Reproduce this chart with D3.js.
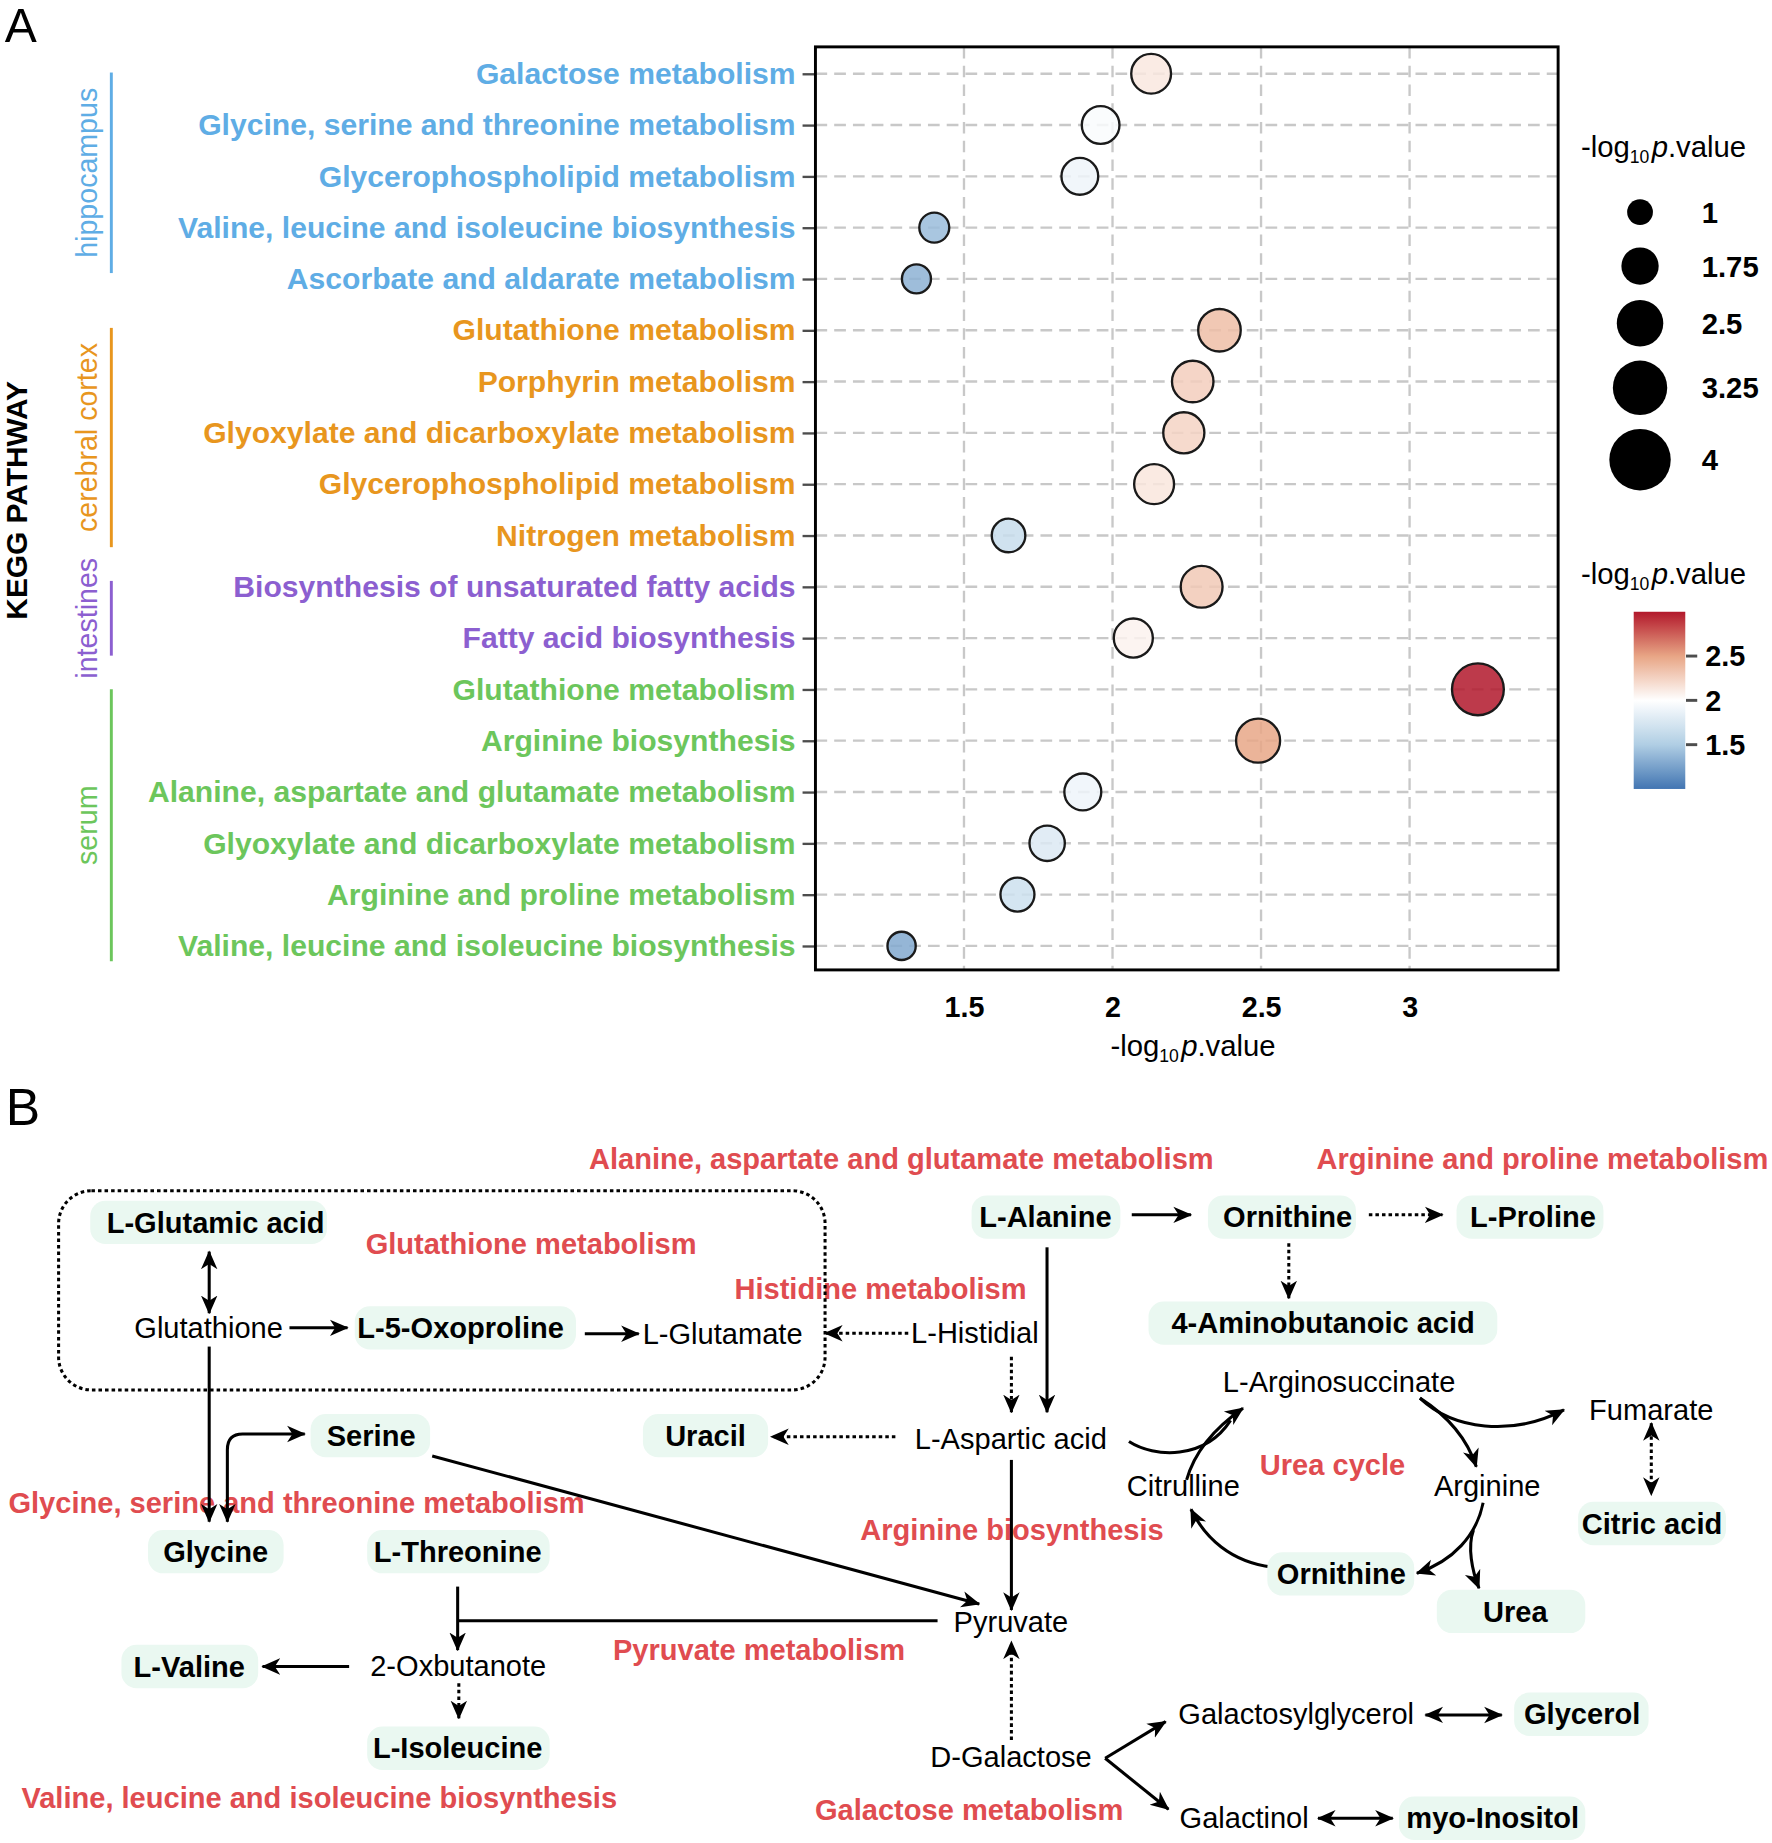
<!DOCTYPE html>
<html>
<head>
<meta charset="utf-8">
<script src="https://cdn.jsdelivr.net/npm/d3@7"></script>
<style>
  body { margin: 0; background: #fff; }
</style>
</head>
<body>
<div id="chart"></div>
<script>
// ---------- data: panel A ----------
var pathways = [
  "Galactose metabolism",
  "Glycine, serine and threonine metabolism",
  "Glycerophospholipid metabolism",
  "Valine, leucine and isoleucine biosynthesis",
  "Ascorbate and aldarate metabolism",
  "Glutathione metabolism",
  "Porphyrin metabolism",
  "Glyoxylate and dicarboxylate metabolism",
  "Glycerophospholipid metabolism",
  "Nitrogen metabolism",
  "Biosynthesis of unsaturated fatty acids",
  "Fatty acid biosynthesis",
  "Glutathione metabolism",
  "Arginine biosynthesis",
  "Alanine, aspartate and glutamate metabolism",
  "Glyoxylate and dicarboxylate metabolism",
  "Arginine and proline metabolism",
  "Valine, leucine and isoleucine biosynthesis"
];
var tissue = [
  "hippocampus", "hippocampus", "hippocampus", "hippocampus", "hippocampus",
  "cerebral cortex", "cerebral cortex", "cerebral cortex", "cerebral cortex", "cerebral cortex",
  "intestines", "intestines",
  "serum", "serum", "serum", "serum", "serum", "serum"
];
var logP = [2.13, 1.96, 1.89, 1.40, 1.34, 2.36, 2.27, 2.24, 2.14, 1.65, 2.30, 2.07, 3.23, 2.49, 1.90, 1.78, 1.68, 1.29];

var groups = ["hippocampus", "cerebral cortex", "intestines", "serum"];
var groupColors = ["#5FADE5", "#E8961E", "#8C5FD0", "#6CC65C"];
var xTicks = [1.5, 2, 2.5, 3];
var sizeBreaks = [1, 1.75, 2.5, 3.25, 4];
var colorTicks = [1.5, 2, 2.5];

// ---------- data: panel B ----------
var pathwayLabels = [
  "Alanine, aspartate and glutamate metabolism",
  "Arginine and proline metabolism",
  "Glutathione metabolism",
  "Histidine metabolism",
  "Glycine, serine and threonine metabolism",
  "Urea cycle",
  "Arginine biosynthesis",
  "Pyruvate metabolism",
  "Valine, leucine and isoleucine biosynthesis",
  "Galactose metabolism"
];
var metabolites = [
  "L-Glutamic acid", "Glutathione", "L-5-Oxoproline", "L-Glutamate", "L-Histidial",
  "L-Alanine", "Ornithine", "L-Proline", "4-Aminobutanoic acid", "Serine", "Uracil",
  "L-Aspartic acid", "L-Arginosuccinate", "Fumarate", "Citrulline", "Arginine",
  "Glycine", "L-Threonine", "Citric acid", "Ornithine", "Urea", "Pyruvate",
  "L-Valine", "2-Oxbutanote", "L-Isoleucine", "Galactosylglycerol", "Glycerol",
  "D-Galactose", "Galactinol", "myo-Inositol"
];
// metabolites found changed (shown with a green box)
var detected = [1, 0, 1, 0, 0, 1, 1, 1, 1, 1, 1, 0, 0, 0, 0, 0, 1, 1, 1, 1, 1, 0, 1, 0, 1, 0, 1, 0, 0, 1];

// ---------- drawing ----------
var FONT = '"Liberation Sans", Arial, Helvetica, sans-serif';
var W = 1512, H = 1843 * 1512 / 1772;

var svg = d3.select('#chart').append('svg')
  .attr('width', 1772)
  .attr('height', 1843)
  .attr('viewBox', '0 0 ' + W + ' ' + H)
  .style('font-family', FONT)
  .style('background', '#fff');
var defs = svg.append('defs');

var groupColor = d3.scaleOrdinal().domain(groups).range(groupColors);

// panel letters
svg.append('text').attr('x', 4).attr('y', 36).attr('font-size', 41).text('A');
svg.append('text').attr('x', 5).attr('y', 960).attr('font-size', 44).text('B');

// ===== panel A: bubble chart =====
var plotL = 695.8, plotR = 1329.5, plotT = 40, plotB = 827.6;

var x = d3.scaleLinear().domain([1, 3.5]).range([plotL, plotR]);
var y = d3.scalePoint().domain(d3.range(pathways.length)).range([41, 829]).padding(0.5);
var r = d3.scaleSqrt().domain([1, 4]).range([10, 25.2]);
var color = d3.scaleLinear()
  .domain([1, 1.5, 2, 2.5, 3])
  .range(['#4275B2', '#B0CEE4', '#FFFFFF', '#E8A585', '#B2182B'])
  .clamp(true);

// grid
var grid = svg.append('g')
  .attr('stroke', '#C8C8C8')
  .attr('stroke-width', 2)
  .attr('stroke-dasharray', '10,6');
grid.selectAll('.hgrid').data(d3.range(pathways.length)).join('line')
  .attr('class', 'hgrid')
  .attr('x1', plotL).attr('x2', plotR)
  .attr('y1', function(d){ return y(d); })
  .attr('y2', function(d){ return y(d); });
grid.selectAll('.vgrid').data(xTicks).join('line')
  .attr('class', 'vgrid')
  .attr('x1', function(d){ return x(d); })
  .attr('x2', function(d){ return x(d); })
  .attr('y1', plotT).attr('y2', plotB);

// y axis (pathway names)
var yAxis = d3.axisLeft(y).tickSize(11).tickPadding(6)
  .tickFormat(function(i){ return pathways[i]; });
var gy = svg.append('g')
  .attr('transform', 'translate(' + plotL + ',0)')
  .call(yAxis)
  .attr('font-family', FONT)
  .attr('font-size', 25.7)
  .attr('font-weight', 'bold');
gy.select('.domain').remove();
gy.selectAll('.tick line').attr('stroke', '#4D4D4D').attr('stroke-width', 2);
gy.selectAll('.tick text').attr('fill', function(i){ return groupColor(tissue[i]); });

// x axis
var xAxis = d3.axisBottom(x).tickValues(xTicks).tickSize(0).tickPadding(23)
  .tickFormat(d3.format(''));
var gx = svg.append('g')
  .attr('transform', 'translate(0,' + plotB + ')')
  .call(xAxis)
  .attr('font-family', FONT)
  .attr('font-size', 24.5)
  .attr('font-weight', 'bold');
gx.select('.domain').remove();
gx.selectAll('.tick text').attr('fill', '#000');

// -log10 p.value title
function logTitle(sel, fs) {
  sel.append('tspan').text('-log');
  sel.append('tspan').attr('font-size', fs * 0.6).attr('dy', fs * 0.22).text('10');
  sel.append('tspan').attr('dy', -fs * 0.22).attr('dx', 2).attr('font-style', 'italic').text('p');
  sel.append('tspan').text('.value');
}
var xt = svg.append('text')
  .attr('x', 1018).attr('y', 901)
  .attr('text-anchor', 'middle')
  .attr('font-size', 25);
logTitle(xt, 25);

// bubbles
svg.append('g').selectAll('circle')
  .data(d3.range(pathways.length))
  .join('circle')
  .attr('cx', function(i){ return x(logP[i]); })
  .attr('cy', function(i){ return y(i); })
  .attr('r', function(i){ return r(logP[i]); })
  .attr('fill', function(i){ return color(logP[i]); })
  .attr('fill-opacity', 0.85)
  .attr('stroke', '#1A1A1A')
  .attr('stroke-width', 2);

// panel border
svg.append('rect')
  .attr('x', plotL).attr('y', plotT)
  .attr('width', plotR - plotL).attr('height', plotB - plotT)
  .attr('fill', 'none').attr('stroke', '#000').attr('stroke-width', 2.5);

// tissue brackets and labels
var bracketPad = [[-1, -5], [-2, 10], [-5, 15], [0, 13]];
groups.forEach(function(g, k){
  var idx = d3.range(pathways.length).filter(function(i){ return tissue[i] === g; });
  var y0 = y(idx[0]) + bracketPad[k][0];
  var y1 = y(idx[idx.length - 1]) + bracketPad[k][1];
  svg.append('line')
    .attr('x1', 95).attr('x2', 95).attr('y1', y0).attr('y2', y1)
    .attr('stroke', groupColors[k]).attr('stroke-width', 2.5);
  svg.append('text')
    .attr('transform', 'translate(82.5,' + ((y0 + y1) / 2) + ') rotate(-90)')
    .attr('text-anchor', 'middle')
    .attr('font-size', 24.4)
    .attr('fill', groupColors[k])
    .text(g);
});

svg.append('text')
  .attr('transform', 'translate(23,427) rotate(-90)')
  .attr('text-anchor', 'middle')
  .attr('font-size', 25.5)
  .attr('font-weight', 'bold')
  .text('KEGG PATHWAY');

// size legend
var st = svg.append('text').attr('x', 1349).attr('y', 134).attr('font-size', 25);
logTitle(st, 25);
var keyY = [], cy = 181;
sizeBreaks.forEach(function(v, i){
  if (i > 0) {
    var hPrev = Math.max(46, 2 * (r(sizeBreaks[i - 1]) + 1) + 12);
    var hCur = Math.max(46, 2 * (r(v) + 1) + 12);
    cy += (hPrev + hCur) / 2;
  }
  keyY.push(cy);
});
var sl = svg.append('g');
sl.selectAll('circle').data(sizeBreaks).join('circle')
  .attr('cx', 1399.4)
  .attr('cy', function(d, i){ return keyY[i]; })
  .attr('r', function(d){ return r(d) + 1; })
  .attr('fill', '#000');
sl.selectAll('text').data(sizeBreaks).join('text')
  .attr('x', 1452)
  .attr('y', function(d, i){ return keyY[i]; })
  .attr('dy', '0.36em')
  .attr('font-size', 25)
  .attr('font-weight', 'bold')
  .text(function(d){ return d; });

// colour legend
var ct = svg.append('text').attr('x', 1349).attr('y', 498).attr('font-size', 25);
logTitle(ct, 25);
var yc = d3.scaleLinear().domain([1, 3]).range([673.2, 522]);
var grad = defs.append('linearGradient')
  .attr('id', 'cbar').attr('x1', 0).attr('x2', 0).attr('y1', 1).attr('y2', 0);
grad.selectAll('stop').data(d3.range(0, 21)).join('stop')
  .attr('offset', function(k){ return k / 20; })
  .attr('stop-color', function(k){ return color(1 + k / 10); });
svg.append('rect')
  .attr('x', 1394).attr('y', yc(3))
  .attr('width', 44).attr('height', yc(1) - yc(3))
  .attr('fill', 'url(#cbar)');
var cl = svg.append('g');
cl.selectAll('line').data(colorTicks).join('line')
  .attr('x1', 1438.6).attr('x2', 1448.2)
  .attr('y1', function(d){ return yc(d); })
  .attr('y2', function(d){ return yc(d); })
  .attr('stroke', '#4D4D4D').attr('stroke-width', 2.5);
cl.selectAll('text').data(colorTicks).join('text')
  .attr('x', 1455)
  .attr('y', function(d){ return yc(d); })
  .attr('dy', '0.36em')
  .attr('font-size', 24.6)
  .attr('font-weight', 'bold')
  .text(function(d){ return d; });

// ===== panel B: pathway map =====
var RED = '#E04C50';
var FS = 24.8;

// label layout: [x, y, anchor]
var labelPos = [
  [1035.6, 988.4, 'end'], [1123.3, 988.4, 'start'], [312, 1061, 'start'],
  [626.7, 1100, 'start'], [7.2, 1282.7, 'start'], [1075, 1250, 'start'],
  [993, 1305.5, 'end'], [523, 1408, 'start'], [18.3, 1534.4, 'start'],
  [958.5, 1544.4, 'end']
];
svg.append('g').selectAll('text').data(pathwayLabels).join('text')
  .attr('x', function(d, i){ return labelPos[i][0]; })
  .attr('y', function(d, i){ return labelPos[i][1]; })
  .attr('text-anchor', function(d, i){ return labelPos[i][2]; })
  .attr('dy', '0.35em')
  .attr('font-size', FS)
  .attr('font-weight', 'bold')
  .attr('fill', RED)
  .text(function(d){ return d; });

// node layout: [text x, text y, box left, box right]
var nodePos = [
  [184, 1043, 77, 279], [178, 1133], [393, 1133, 302.7, 491.5], [616.6, 1138], [831.8, 1137.6],
  [892, 1038.5, 829, 956], [1098.7, 1038.5, 1030.7, 1157], [1308, 1038.5, 1242.8, 1368.2],
  [1129, 1129, 980, 1277.6], [316.7, 1225, 265, 367], [602, 1225, 548.6, 655.4],
  [862.5, 1227.3], [1142.6, 1179], [1409, 1203], [1009.7, 1268], [1269, 1268],
  [184, 1324, 126.3, 242], [390.5, 1324, 313.3, 469], [1409.6, 1300, 1346.6, 1472.7],
  [1144.6, 1343, 1081.4, 1206.7], [1293, 1375, 1226, 1352.7], [862.6, 1383.7],
  [161.5, 1422, 103.6, 220.3], [391, 1421], [390.5, 1491.7, 313.3, 469],
  [1106, 1462], [1350, 1462.7, 1292, 1406.7], [862.7, 1499], [1061.6, 1551.5],
  [1273.7, 1551.5, 1193.7, 1352.7]
];

// arrow marker
defs.append('marker')
  .attr('id', 'ah')
  .attr('viewBox', '0 0 16 16')
  .attr('refX', 15).attr('refY', 8)
  .attr('markerWidth', 16).attr('markerHeight', 16)
  .attr('markerUnits', 'userSpaceOnUse')
  .attr('orient', 'auto-start-reverse')
  .append('path')
  .attr('d', 'M0,1 L16,8 L0,15 L4.5,8 Z')
  .attr('fill', '#000');

// dotted box round glutathione metabolism
svg.append('rect')
  .attr('x', 50).attr('y', 1016).attr('width', 654).attr('height', 170)
  .attr('rx', 28)
  .attr('fill', 'none').attr('stroke', '#000')
  .attr('stroke-width', 2.6).attr('stroke-dasharray', '3,2.6');

// links: path, dotted, heads ('end', 'both', 'none')
var links = [
  ['M178.5,1068 L178.5,1120.5', 0, 'both'],
  ['M247,1133 L296.5,1133', 0, 'end'],
  ['M499,1138 L545,1138', 0, 'end'],
  ['M775,1137.6 L704,1137.6', 1, 'end'],
  ['M178.5,1149 L178.5,1298.4', 0, 'end'],
  ['M194,1298.4 L194,1237 Q194,1223.6 207,1223.6 L260,1223.6', 0, 'both'],
  ['M368.8,1242.3 L835.5,1368.6', 0, 'end'],
  ['M390.5,1353.8 L390.5,1408', 0, 'end'],
  ['M390.5,1383 L800,1383', 0, 'none'],
  ['M297.9,1422 L224,1422', 0, 'end'],
  ['M391.5,1436.3 L391.5,1466.2', 1, 'end'],
  ['M965.7,1036.6 L1016.2,1036.6', 0, 'end'],
  ['M1168,1036.6 L1230.8,1036.6', 1, 'end'],
  ['M1099.7,1060.8 L1099.7,1107.8', 1, 'end'],
  ['M893.4,1064.3 L893.4,1205', 0, 'end'],
  ['M863,1157.6 L863,1205', 1, 'end'],
  ['M764,1226 L658,1226', 1, 'end'],
  ['M863,1245.7 L863,1373.7', 0, 'end'],
  ['M863,1484.7 L863,1400.7', 1, 'end'],
  ['M943,1500.3 L994.6,1469', 0, 'end'],
  ['M943,1500.3 L997,1543.8', 0, 'end'],
  ['M1216.3,1463.3 L1281.4,1463.3', 0, 'both'],
  ['M1124.6,1551.5 L1188.4,1551.5', 0, 'both'],
  ['M1409,1214.4 L1409,1275.6', 1, 'both'],
  ['M963.3,1230 C985,1244 1028,1246 1050,1212', 0, 'none'],
  ['M1012.5,1262.8 C1020,1236 1040,1216 1060.6,1201.6', 0, 'end'],
  ['M1211.6,1193 C1240,1220 1290,1226 1334.5,1203', 0, 'end'],
  ['M1211.6,1193 C1235,1208 1252,1228 1259.7,1251.5', 0, 'end'],
  ['M1265.5,1282.2 C1260,1310 1240,1332 1209,1342.4', 0, 'end'],
  ['M1257.3,1305.5 C1252,1320 1256,1340 1262,1355.2', 0, 'end'],
  ['M1086.2,1337.3 C1050,1333 1028,1312 1016.2,1287.8', 0, 'end']
];
svg.append('g').selectAll('path').data(links).join('path')
  .attr('d', function(d){ return d[0]; })
  .attr('fill', 'none')
  .attr('stroke', '#000')
  .attr('stroke-width', 2.6)
  .attr('stroke-dasharray', function(d){ return d[1] ? '3,2.6' : null; })
  .attr('marker-end', function(d){ return d[2] !== 'none' ? 'url(#ah)' : null; })
  .attr('marker-start', function(d){ return d[2] === 'both' ? 'url(#ah)' : null; });

// metabolite nodes
var nodeData = metabolites.map(function(m, i){
  return { name: m, hl: detected[i] === 1, p: nodePos[i] };
});
var nodes = svg.append('g').selectAll('g').data(nodeData).join('g');
nodes.filter(function(d){ return d.hl; })
  .append('rect')
  .attr('x', function(d){ return d.p[2]; })
  .attr('y', function(d){ return d.p[1] - 18.5; })
  .attr('width', function(d){ return d.p[3] - d.p[2]; })
  .attr('height', 37)
  .attr('rx', 13)
  .attr('fill', '#EAF8F1');
nodes.append('text')
  .attr('x', function(d){ return d.p[0]; })
  .attr('y', function(d){ return d.p[1]; })
  .attr('dy', '0.35em')
  .attr('text-anchor', 'middle')
  .attr('font-size', FS)
  .attr('font-weight', function(d){ return d.hl ? 'bold' : 'normal'; })
  .attr('fill', '#000')
  .text(function(d){ return d.name; });
</script>
</body>
</html>
